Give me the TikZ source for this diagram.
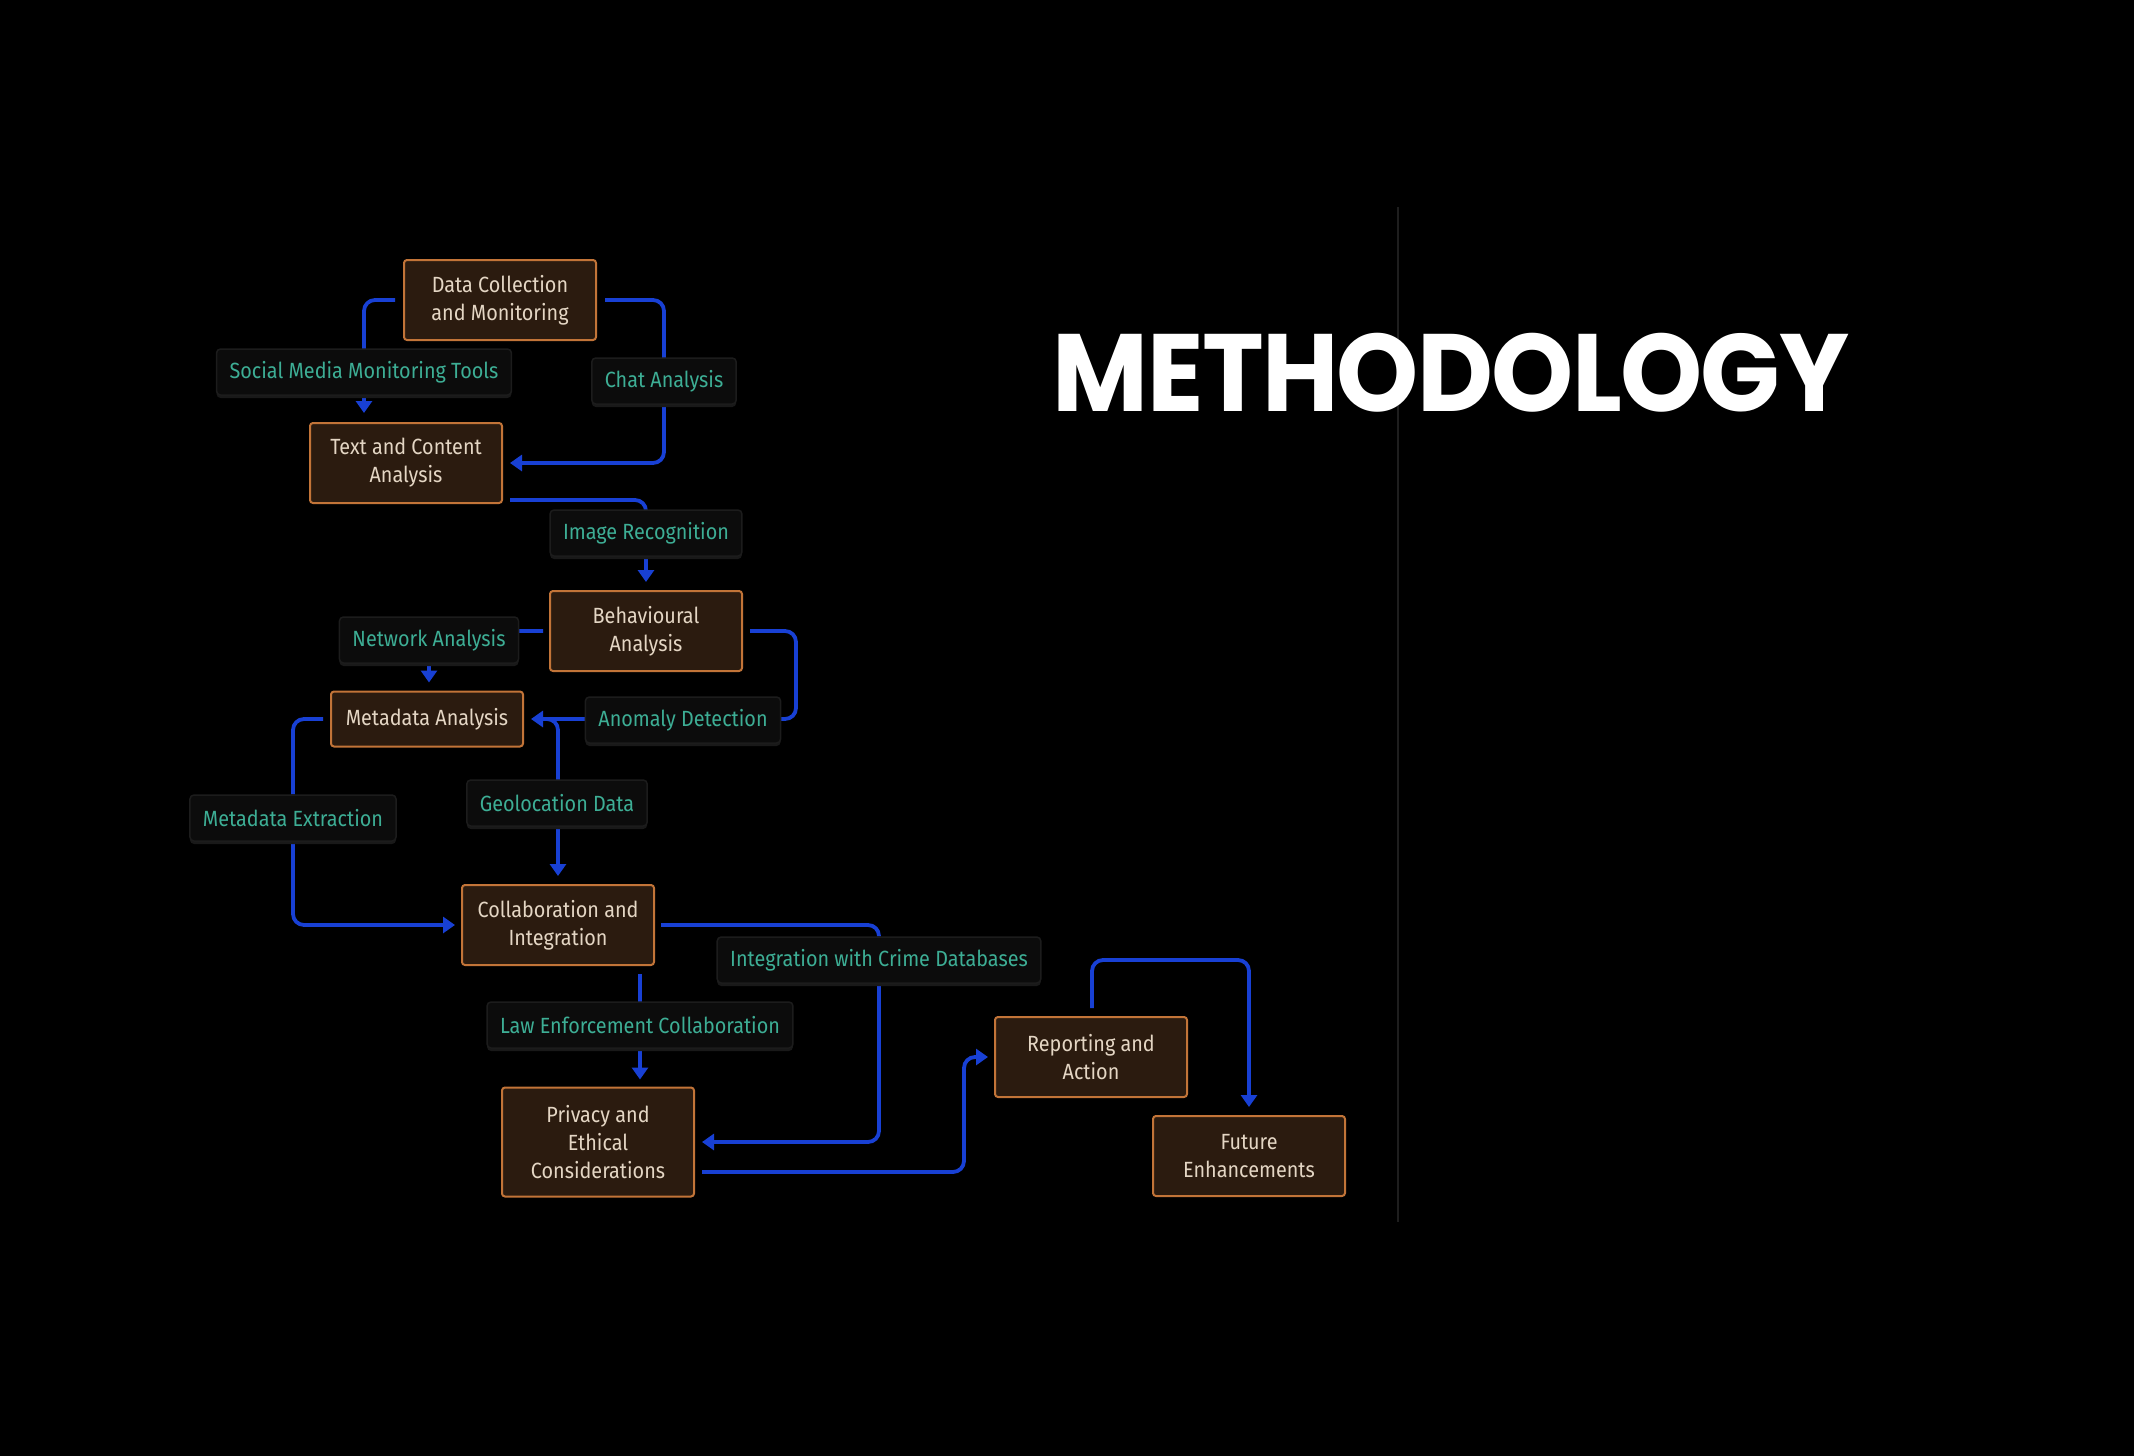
\documentclass[tikz,border=0pt]{standalone}
\usepackage{fontspec}
\setmainfont{Fira Sans}[FakeStretch=0.9]
\newfontfamily\titlefont{Poppins}[LetterSpace=-1.5, FakeStretch=0.95]
\usetikzlibrary{arrows.meta,calc,shadows}
\definecolor{boxfill}{HTML}{2B1B0F}
\definecolor{boxline}{HTML}{C27438}
\definecolor{boxtext}{HTML}{E4D6C4}
\definecolor{tagfill}{HTML}{0C0C0C}
\definecolor{tagline}{HTML}{1C1C1C}
\definecolor{tagshade}{HTML}{191919}
\definecolor{tagtext}{HTML}{3DAE95}
\definecolor{wire}{HTML}{1840D4}
\definecolor{divider}{HTML}{1E1E1E}
\pgfdeclarelayer{canvas}
\pgfdeclarelayer{wires}
\pgfsetlayers{canvas,wires,main}

\begin{document}
\begin{tikzpicture}[x=1pt,y=-1pt,
  stage/.style={draw=boxline, fill=boxfill, line width=2pt, rounded corners=3pt,
    text=boxtext, align=center, font=\fontsize{22}{28}\selectfont,
    minimum width=192pt, minimum height=80pt, inner sep=0pt},
  tag/.style={draw=tagline, fill=tagfill, line width=1.5pt, rounded corners=4pt,
    text=tagtext, font=\fontsize{22}{28}\selectfont,
    minimum height=46pt, inner xsep=13pt,
    drop shadow={shadow xshift=0pt, shadow yshift=-3pt, fill=tagshade, opacity=1}},
  conn/.style={draw=wire, line width=3.8pt, rounded corners=11pt,
    -{Triangle[width=16pt,length=12pt]}},
  ]
  % canvas
  \begin{pgfonlayer}{canvas}
    \fill[black] (0,0) rectangle (2134,1456);
    \draw[divider, line width=1.5pt] (1398,207) -- (1398,1222);
  \end{pgfonlayer}

  % title
  \node[font=\titlefont\bfseries\fontsize{110}{110}\selectfont, text=white, anchor=base]
    (title) at (1451,411) {METHODOLOGY};

  % stages and transitions
  \node[stage] (dc) at (500,300) {Data Collection\\and Monitoring};
  \node[tag] (sm) at (364,372) {Social Media Monitoring Tools};
  \node[tag] (ch) at (664,381) {Chat Analysis};
  \node[stage] (tc) at (406,463) {Text and Content\\Analysis};
  \node[tag] (ir) at (646,533) {Image Recognition};
  \node[stage] (bh) at (646,631) {Behavioural\\Analysis};
  \node[tag] (nw) at (429,640) {Network Analysis};
  \node[stage, minimum height=55pt] (md) at (427,719) {Metadata Analysis};
  \node[tag] (an) at (683,720) {Anomaly Detection};
  \node[tag] (mx) at (293,818) {Metadata Extraction};
  \node[tag] (ge) at (557,803) {Geolocation Data};
  \node[stage] (co) at (558,925) {Collaboration and\\Integration};
  \node[tag] (ig) at (879,960) {Integration with Crime Databases};
  \node[tag] (le) at (640,1025) {Law Enforcement Collaboration};
  \node[stage, minimum height=109pt] (pr) at (598,1142) {Privacy and\\Ethical\\Considerations};
  \node[stage] (rp) at (1091,1057) {Reporting and\\Action};
  \node[stage] (fu) at (1249,1156) {Future\\Enhancements};

  % connectors run underneath the transition tags
  \begin{pgfonlayer}{wires}
    \draw[conn] ($(dc.west)+(-8,0)$) -| ($(sm |- tc.north)+(0,-9)$);
    \draw[conn] ($(dc.east)+(8,0)$) -| (ch |- tc.east) -- ($(tc.east)+(7,0)$);
    \draw[conn] ($(tc.south east)+(7,-4)$) -| ($(bh.north)+(0,-8)$);
    \draw[conn] ($(bh.west)+(-6,0)$) -| ($(nw |- md.north)+(0,-8)$);
    \draw[conn] ($(bh.east)+(7,0)$) -- ++(46,0) |- ($(md.east)+(7,0)$);
    \draw[conn] ($(md.east)+(12,0)$) -| ($(co.north)+(0,-8)$);
    \draw[conn] ($(md.west)+(-7,0)$) -| (mx) |- ($(co.west)+(-6,0)$);
    \draw[conn] ($(co.east)+(6,0)$) -| (ig) |- ($(pr.east)+(7,0)$);
    \draw[conn] ($(le |- co.south)+(0,8)$) -- ($(le |- pr.north)+(0,-7)$);
    \draw[conn] ($(pr.east)+(7,30)$) -| ($(rp.west)+(-30,0)$) -- ($(rp.west)+(-6,0)$);
    \draw[conn] ($(rp.north)+(1,-8)$) -- ++(0,-48) -| ($(fu.north)+(0,-8)$);
  \end{pgfonlayer}
\end{tikzpicture}
\end{document}
